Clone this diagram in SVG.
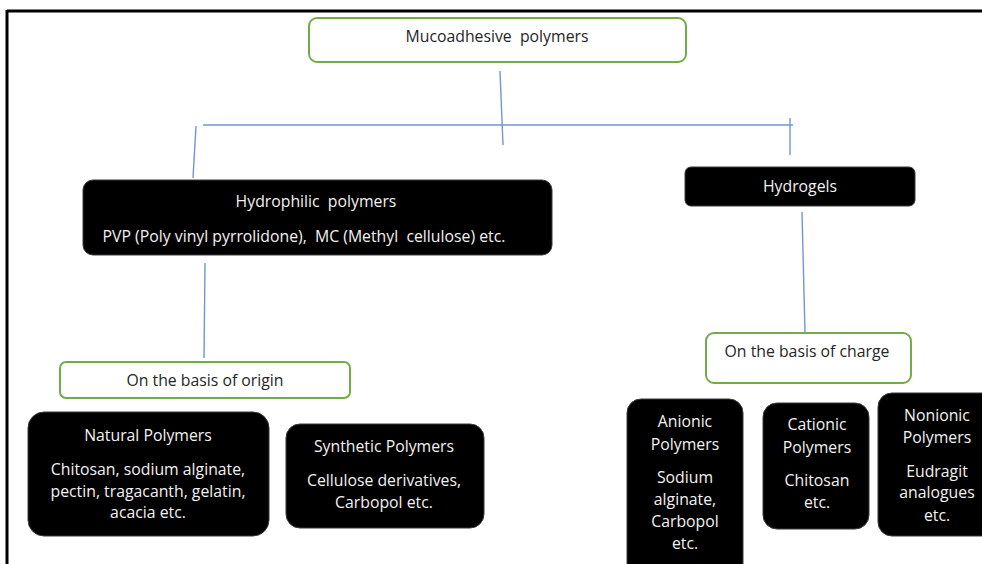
<svg xmlns="http://www.w3.org/2000/svg" width="982" height="564" viewBox="0 0 982 564">
<style>
.g{fill:#fff;stroke:#70ad47;stroke-width:2}
.b{fill:#000;stroke:#3a3a3a;stroke-width:1}
text{font-family:"Open Sans",Lato,"Liberation Sans",sans-serif;font-size:15.8px;text-anchor:middle;white-space:pre}
.dk{fill:#262626}
.wt{fill:#f2f2f2}
.c line{stroke:#7095d8;stroke-width:1.4}
</style>
<rect x="0" y="0" width="982" height="564" fill="#fff"/>
<g id="frame">
<line x1="7" y1="11" x2="982" y2="11" stroke="#000" stroke-width="3"/>
<line x1="7" y1="10" x2="7" y2="564" stroke="#000" stroke-width="3"/>
</g>
<g class="c" id="connectors">
<line x1="500" y1="71" x2="503" y2="145"/>
<line x1="203" y1="125" x2="793" y2="125"/>
<line x1="196" y1="126" x2="193" y2="178"/>
<line x1="790" y1="118" x2="790" y2="155"/>
<line x1="205" y1="263" x2="204" y2="358"/>
<line x1="802" y1="212" x2="805" y2="333"/>
</g>
<g id="root">
<rect class="g" x="309" y="18" width="377" height="44" rx="8"/>
<text class="dk" x="497" y="42">Mucoadhesive  polymers</text>
</g>
<g id="hydrophilic">
<rect class="b" x="83" y="180" width="469" height="75" rx="10"/>
<text class="wt" x="316" y="207">Hydrophilic  polymers</text>
<text class="wt" x="304" y="242">PVP (Poly vinyl pyrrolidone),  MC (Methyl  cellulose) etc.</text>
</g>
<g id="hydrogels">
<rect class="b" x="685" y="167" width="230" height="39" rx="6"/>
<text class="wt" x="800" y="192">Hydrogels</text>
</g>
<g id="origin">
<rect class="g" x="60" y="362" width="290" height="36" rx="6"/>
<text class="dk" x="205" y="386">On the basis of origin</text>
</g>
<g id="charge">
<rect class="g" x="706" y="333" width="205" height="50" rx="8"/>
<text class="dk" x="807" y="357">On the basis of charge</text>
</g>
<g id="natural">
<rect class="b" x="28" y="412" width="241" height="124" rx="16"/>
<text class="wt" x="148" y="441">Natural Polymers</text>
<text class="wt" x="148" y="475">Chitosan, sodium alginate,</text>
<text class="wt" x="148" y="497">pectin, tragacanth, gelatin,</text>
<text class="wt" x="148" y="518">acacia etc.</text>
</g>
<g id="synthetic">
<rect class="b" x="286" y="424" width="198" height="104" rx="14"/>
<text class="wt" x="384" y="452">Synthetic Polymers</text>
<text class="wt" x="384" y="486">Cellulose derivatives,</text>
<text class="wt" x="384" y="508">Carbopol etc.</text>
</g>
<g id="anionic">
<rect class="b" x="627" y="399" width="116" height="180" rx="14"/>
<text class="wt" x="685" y="427">Anionic</text>
<text class="wt" x="685" y="450">Polymers</text>
<text class="wt" x="685" y="483">Sodium</text>
<text class="wt" x="685" y="505">alginate,</text>
<text class="wt" x="685" y="527">Carbopol</text>
<text class="wt" x="685" y="549">etc.</text>
</g>
<g id="cationic">
<rect class="b" x="763" y="403" width="106" height="126" rx="14"/>
<text class="wt" x="817" y="430">Cationic</text>
<text class="wt" x="817" y="453">Polymers</text>
<text class="wt" x="817" y="486">Chitosan</text>
<text class="wt" x="817" y="508">etc.</text>
</g>
<g id="nonionic">
<rect class="b" x="878" y="393" width="118" height="143" rx="14"/>
<text class="wt" x="937" y="421">Nonionic</text>
<text class="wt" x="937" y="443">Polymers</text>
<text class="wt" x="937" y="477">Eudragit</text>
<text class="wt" x="937" y="498">analogues</text>
<text class="wt" x="937" y="521">etc.</text>
</g>
</svg>
